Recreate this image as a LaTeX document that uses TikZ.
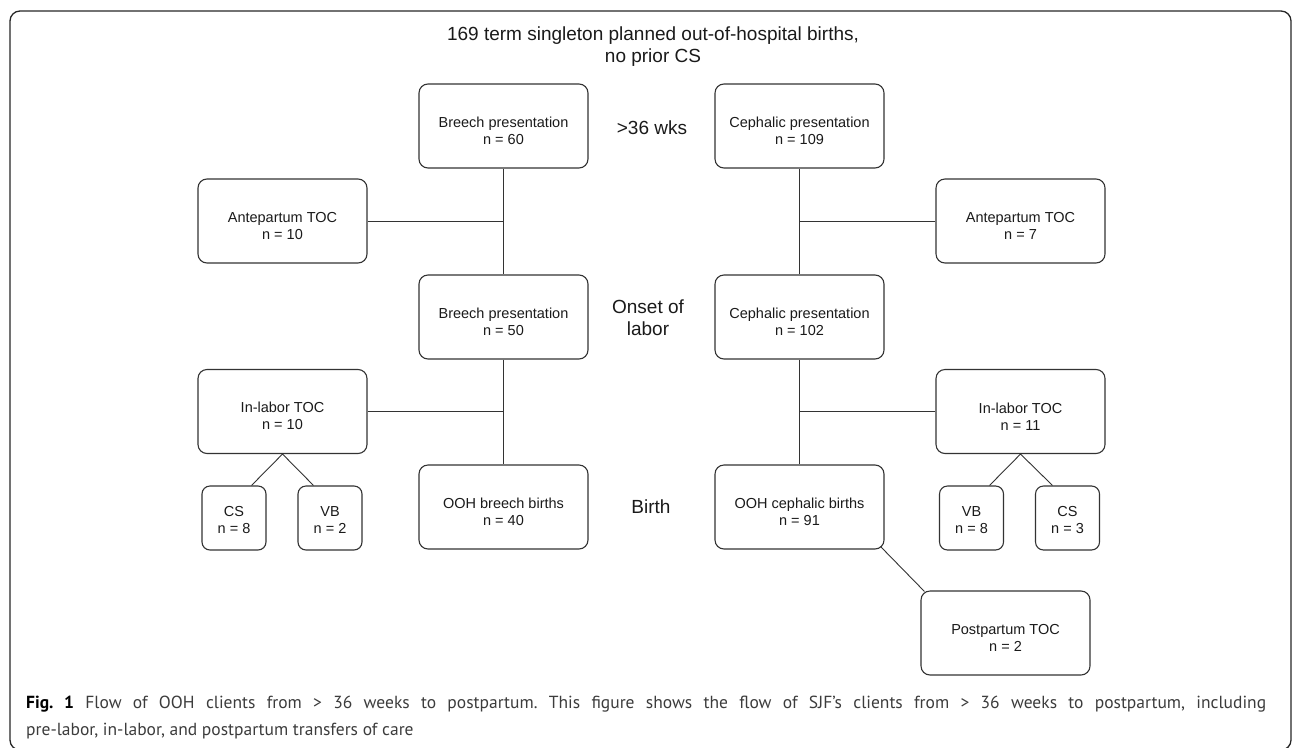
\documentclass[tikz,border=0pt]{standalone}
\usepackage{fontspec}
\setmainfont{Liberation Sans}
\newfontfamily\capfont{PT Sans}
\definecolor{lineclr}{HTML}{333333}
\definecolor{txtclr}{HTML}{1A1A1A}
\definecolor{capclr}{HTML}{3C3C3C}
\newcommand\bigstrut{\rule{0pt}{20pt}}
\newcommand\smlstrut{\rule{0pt}{14pt}}
\begin{document}
\begin{tikzpicture}[x=1pt,y=-1pt,
  boxfont/.style={font=\fontsize{14.5}{17}\selectfont},
  sidefont/.style={font=\fontsize{19}{22}\selectfont},
  flowbox/.style={draw=lineclr, line width=1.1pt, rounded corners=9pt,
     minimum width=169pt, minimum height=84pt, inner sep=0pt, align=center,
     text=txtclr, boxfont},
  smallbox/.style={flowbox, minimum width=64pt, minimum height=64pt, rounded corners=8pt},
  link/.style={draw=lineclr, line width=0.9pt},
  sidelabel/.style={align=center, text=txtclr, sidefont, inner sep=0pt},
  captext/.style={anchor=base west, inner sep=0pt, text=capclr,
     font=\capfont\fontsize{17.5}{27}\selectfont\frenchspacing}
]
\useasboundingbox (0,0) rectangle (1292,747);
\begin{scope}
\clip (0,0) rectangle (1292,747);
\draw[line width=1.3pt, rounded corners=10pt, draw=black!85] (10,11) rectangle (1291,750);
\end{scope}

% title
\node[sidelabel] (title) at (653,47) {169 term singleton planned out-of-hospital births,\\ no prior CS};

% side labels
\node[sidelabel] (l1) at (652,128) {>36 wks};
\node[sidelabel] (l2) at (648,318) {Onset of\\ labor};
\node[sidelabel] (l3) at (651,507) {Birth};

% breech column
\node[flowbox] (b1) at (503.5,126) {\bigstrut Breech presentation\\ n = 60};
\node[flowbox] (b2) at (503.5,317) {\bigstrut Breech presentation\\ n = 50};
\node[flowbox] (b3) at (503.5,507) {\bigstrut OOH breech births\\ n = 40};
\node[flowbox] (al) at (282.5,221) {\bigstrut Antepartum TOC\\ n = 10};
\node[flowbox] (il) at (282.5,411.5) {\bigstrut In-labor TOC\\ n = 10};
\node[smallbox] (csl) at (234,518) {\smlstrut CS\\ n = 8};
\node[smallbox] (vbl) at (330,518) {\smlstrut VB\\ n = 2};

% cephalic column
\node[flowbox] (c1) at (799.5,126) {\bigstrut Cephalic presentation\\ n = 109};
\node[flowbox] (c2) at (799.5,317) {\bigstrut Cephalic presentation\\ n = 102};
\node[flowbox] (c3) at (799.5,507) {\bigstrut OOH cephalic births\\ n = 91};
\node[flowbox] (ar) at (1020.5,221) {\bigstrut Antepartum TOC\\ n = 7};
\node[flowbox] (ir) at (1020.5,411.5) {\bigstrut In-labor TOC\\ n = 11};
\node[smallbox] (vbr) at (971.5,518) {\smlstrut VB\\ n = 8};
\node[smallbox] (csr) at (1067.5,518) {\smlstrut CS\\ n = 3};
\node[flowbox] (pp) at (1005.5,633) {\bigstrut Postpartum TOC\\ n = 2};

% connectors
\draw[link] (b1.south) -- (b2.north);
\draw[link] (b2.south) -- (b3.north);
\draw[link] (al.east) -- (b1.south |- al.east);
\draw[link] (il.east) -- (b2.south |- il.east);
\draw[link] ([xshift=-31pt]il.south |- csl.north) -- (il.south) -- ([xshift=31pt]il.south |- vbl.north);

\draw[link] (c1.south) -- (c2.north);
\draw[link] (c2.south) -- (c3.north);
\draw[link] (ar.west) -- (c1.south |- ar.west);
\draw[link] (ir.west) -- (c2.south |- ir.west);
\draw[link] ([xshift=-31pt]ir.south |- vbr.north) -- (ir.south) -- ([xshift=32pt]ir.south |- csr.north);
\draw[link] ([xshift=-4pt,yshift=3pt]c3.south east) -- ([xshift=4pt,yshift=-1pt]pp.north west);

% caption
\node[captext] (cap1) at (26,708)
  {\makebox[1240pt][s]{\textbf{\color{black}Fig. 1} Flow of OOH clients from > 36 weeks to postpartum. This figure shows the flow of SJF’s clients from > 36 weeks to postpartum, including}};
\node[captext] (cap2) at (26,735)
  {pre-labor, in-labor, and postpartum transfers of care};
\end{tikzpicture}
\end{document}
